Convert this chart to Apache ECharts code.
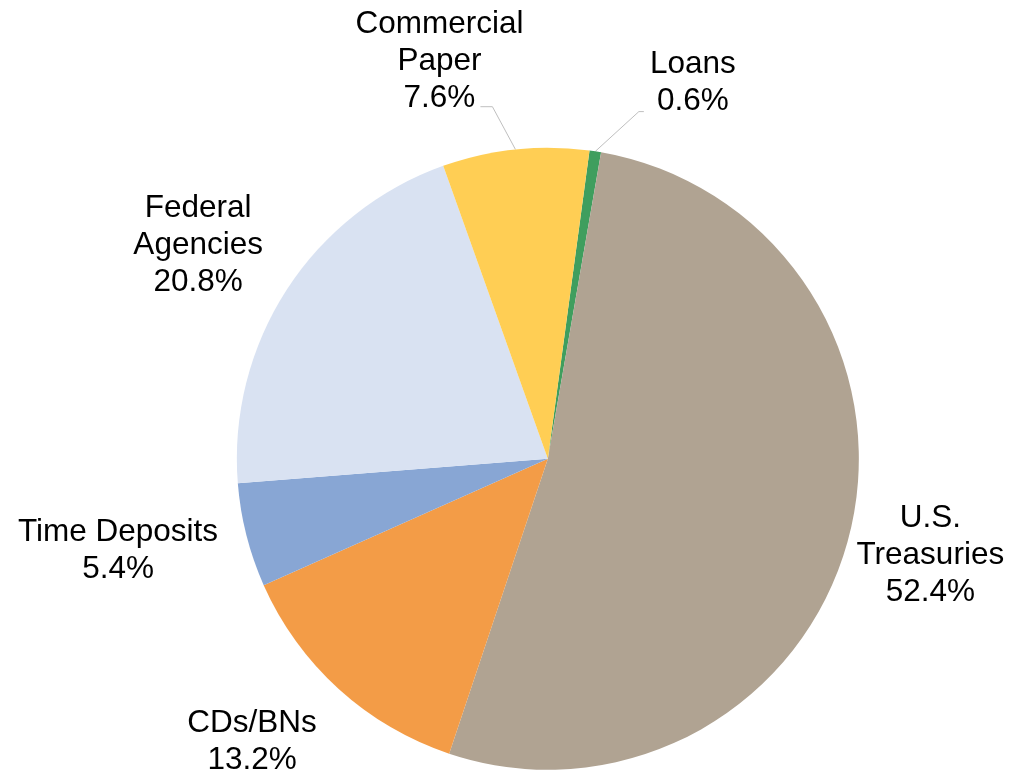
<!DOCTYPE html>
<html>
<head>
<meta charset="utf-8">
<script src="https://cdn.jsdelivr.net/npm/echarts@6/dist/echarts.min.js"></script>
<style>
  html, body { margin: 0; padding: 0; background: #fff; }
  #chart { width: 1024px; height: 771px; }
</style>
</head>
<body>
<div id="chart"></div>
<script>
// Portfolio composition by asset class (percent of total)
const categories = ['Loans', 'U.S. Treasuries', 'CDs/BNs', 'Time Deposits', 'Federal Agencies', 'Commercial Paper'];
const labelNames = ['Loans', 'U.S.\nTreasuries', 'CDs/BNs', 'Time Deposits', 'Federal\nAgencies', 'Commercial\nPaper'];
const shares = [0.6, 52.4, 13.2, 5.4, 20.8, 7.6];
const colors = ['#3F9E5E', '#B0A392', '#F39C47', '#88A6D4', '#D9E2F2', '#FFCE54'];

// Label placement: angular nudge (deg) from the slice middle and distance from centre
const labelPlacement = [
  { nudge: 12.2, dist: 405, line: { end: [-49, 31], knee: [-54, 31] } },
  { nudge: -0.3, dist: 394 },
  { nudge: 4.2, dist: 408 },
  { nudge: 2.5, dist: 439 },
  { nudge: -1.2, dist: 411 },
  { nudge: -9.2, dist: 414, line: { end: [41, 47.5], knee: [53, 47.5] } }
];

const START_ANGLE = 82.3;
const RADIUS = 311;
const CENTER = ['53.5%', '59.5%'];
// line boxes sit slightly above the glyphs' visual centre
const TEXT_SHIFT = 2.5;

const chart = echarts.init(document.getElementById('chart'), null, { renderer: 'canvas' });

const total = shares.reduce((a, b) => a + b, 0);
const midAngles = [];
let cum = 0;
shares.forEach(v => {
  // clockwise from 12 o'clock
  midAngles.push((90 - START_ANGLE) + 360 * (cum + v / 2) / total);
  cum += v;
});

function centrePx() {
  return [chart.getWidth() * parseFloat(CENTER[0]) / 100, chart.getHeight() * parseFloat(CENTER[1]) / 100];
}
function polar(c, r, deg) {
  const a = deg * Math.PI / 180;
  return [c[0] + r * Math.sin(a), c[1] - r * Math.cos(a)];
}

const data = categories.map((name, i) => ({
  name: name,
  value: shares[i],
  itemStyle: { color: colors[i] },
  labelLine: { show: !!labelPlacement[i].line }
}));

chart.setOption({
  backgroundColor: '#ffffff',
  animation: false,
  series: [{
    type: 'pie',
    center: CENTER,
    radius: RADIUS,
    startAngle: START_ANGLE,
    clockwise: true,
    avoidLabelOverlap: false,
    data: data,
    itemStyle: { borderWidth: 0 },
    label: {
      show: true,
      position: 'outside',
      formatter: p => labelNames[p.dataIndex] + '\n' + p.value.toFixed(1) + '%',
      fontFamily: '"Liberation Sans", Arial, sans-serif',
      fontSize: 31.5,
      lineHeight: 37,
      color: '#000000',
      align: 'center'
    },
    labelLine: {
      show: true,
      length: 20,
      length2: 10,
      lineStyle: { color: '#BFBFBF', width: 1 }
    },
    emphasis: { disabled: true },
    labelLayout: function (params) {
      const i = params.dataIndex;
      const place = labelPlacement[i];
      const c = centrePx();
      const pos = polar(c, place.dist, midAngles[i] + place.nudge);
      const out = { x: pos[0], y: pos[1] + TEXT_SHIFT, align: 'center', verticalAlign: 'middle' };
      if (place.line) {
        const edge = polar(c, RADIUS, midAngles[i]);
        out.labelLinePoints = [
          edge,
          [pos[0] + place.line.knee[0], pos[1] + place.line.knee[1]],
          [pos[0] + place.line.end[0], pos[1] + place.line.end[1]]
        ];
      }
      return out;
    }
  }]
});
</script>
</body>
</html>
